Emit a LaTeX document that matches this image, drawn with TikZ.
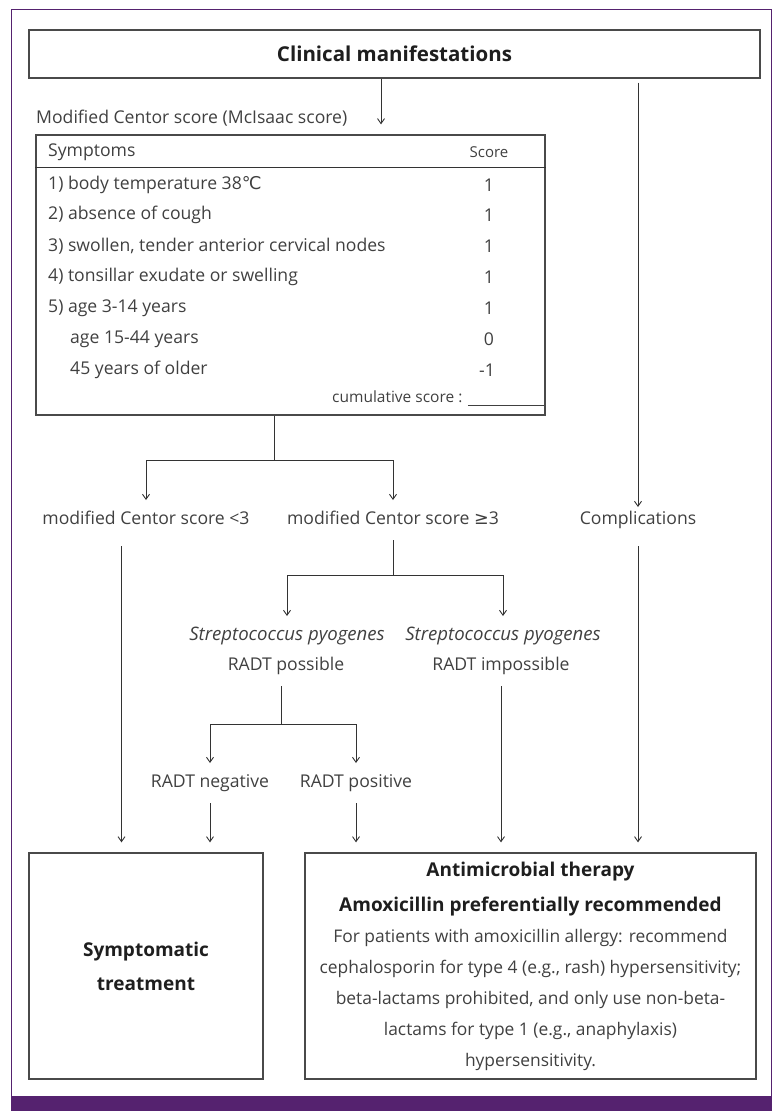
\documentclass[tikz,border=0pt]{standalone}
\usepackage{fontspec}
\setmainfont{Open Sans}
\newfontfamily\symfont{DejaVu Sans}
\usetikzlibrary{arrows.meta,positioning}
\definecolor{framepurple}{HTML}{55226F}
\definecolor{textgray}{HTML}{404040}
\definecolor{titlegray}{HTML}{1E1E1E}
\definecolor{linegray}{HTML}{333333}
\definecolor{boxgray}{HTML}{4A4A4A}
\tikzset{
  box/.style={draw=boxgray, line width=1.3pt, inner sep=0pt, align=center},
  lbl/.style={inner sep=0pt, text height=12pt, text depth=4pt, outer ysep=12pt,
    text=textgray, font=\fontsize{17.6}{20}\selectfont},
  row/.style={anchor=west, inner sep=0pt, text=textgray, font=\fontsize{17.6}{20}\selectfont},
  pts/.style={inner sep=0pt, text=textgray, font=\fontsize{17.6}{20}\selectfont},
  arr/.style={draw=linegray, line width=0.9pt, -{Straight Barb[length=5pt,width=7pt]}},
  ln/.style={draw=linegray, line width=0.9pt}
}

\begin{document}
\begin{tikzpicture}[x=1pt,y=-1pt]
        \useasboundingbox (0,0) rectangle (784,1120);
        % Frame
        \draw[framepurple, line width=1.2pt] (11.5,9.5) rectangle (771.5,1097);
        \fill[framepurple] (11,1096) rectangle (772,1111);
        % Boxes
        \node[box, minimum width=731pt, minimum height=48pt, text=titlegray,
          font=\bfseries\fontsize{20.5}{24}\selectfont] (clin) at (394.5,54) {Clinical manifestations};
        \node[row] (mcisaac) at (36,118) {Modified Centor score (McIsaac score)};
        \node[box, minimum width=509pt, minimum height=280pt] (tbl) at (290.5,275) {};
        \draw[ln] (tbl.west |- 0,167) -- (tbl.east |- 0,167);
        \node[box, minimum width=234pt, minimum height=226pt, text=titlegray,
          font=\bfseries\fontsize{19}{34}\selectfont] (sym) at (146,966) {Symptomatic\\treatment};
        \node[box, minimum width=451pt, minimum height=226pt, text=textgray,
          font=\fontsize{17.4}{31}\selectfont] (anti) at (530.5,966) {%
          {\color{titlegray}\bfseries\fontsize{19}{35}\selectfont Antimicrobial therapy}\\[4pt]
          {\color{titlegray}\bfseries\fontsize{19}{35}\selectfont Amoxicillin preferentially recommended}\\
          For patients with amoxicillin allergy: recommend\\
          cephalosporin for type 4 (e.g., rash) hypersensitivity;\\
          beta-lactams prohibited, and only use non-beta-\\
          lactams for type 1 (e.g., anaphylaxis)\\
          hypersensitivity.};
        % Table rows
        \node[row] (symhead) at (48,152) {Symptoms};
        \node[pts, font=\fontsize{15}{18}\selectfont] (scorehead) at (489,152) {Score};
        \node[row] (s1) at (48,185) {1) body temperature 38{\symfont ℃}};
        \node[row] (s2) at (48,215) {2) absence of cough};
        \node[row] (s3) at (48,246) {3) swollen, tender anterior cervical nodes};
        \node[row] (s4) at (48,277) {4) tonsillar exudate or swelling};
        \node[row] (s5) at (48,308) {5) age 3-14 years};
        \node[row] (s6) at (70,339) {age 15-44 years};
        \node[row] (s7) at (70,370) {45 years of older};
        \node[pts] (p1) at (489,185) {1};
        \node[pts] (p2) at (489,215) {1};
        \node[pts] (p3) at (489,246) {1};
        \node[pts] (p4) at (489,277) {1};
        \node[pts] (p5) at (489,308) {1};
        \node[pts] (p6) at (489,339) {0};
        \node[pts] (p7) at (487,370) {-1};
        \node[pts, anchor=east, font=\fontsize{15.5}{18}\selectfont] (cum) at (544,398)
          {cumulative score : \raisebox{-3pt}{\rule{76pt}{0.8pt}}};
        % Labels
        \node[lbl] (low) at (146,520) {modified Centor score <3};
        \node[lbl] (high) at (393,520) {modified Centor score {\symfont ≥}3};
        \node[lbl] (comp) at (638,520) {Complications};
        \node[lbl, font=\itshape\fontsize{18.6}{20}\selectfont] (sp1) at (287,636) {Streptococcus pyogenes};
        \node[lbl, font=\itshape\fontsize{18.6}{20}\selectfont] (sp2) at (503,636) {Streptococcus pyogenes};
        \node[lbl] (radt1) at (286,666) {RADT possible};
        \node[lbl] (radt2) at (501,666) {RADT impossible};
        \node[lbl] (neg) at (210,783) {RADT negative};
        \node[lbl] (pos) at (356,783) {RADT positive};
        % Connectors
        \coordinate (mc) at (381,0);
        \draw[arr, shorten >=10pt] (clin.south -| mc) -- (tbl.north -| mc);
        \draw[arr, shorten <=4pt, shorten >=-7pt] (clin.south -| comp) -- (comp.north);
        \coordinate (j1) at (274,460);
        \draw[ln] (tbl.south -| j1) -- (j1);
        \draw[arr] (j1) -| (low.north);
        \draw[arr] (j1) -| (high.north);
        \coordinate (j2) at (393,575);
        \draw[ln] (high.south) -- (j2);
        \draw[arr] (j2) -| (sp1.north);
        \draw[arr] (j2) -| (sp2.north);
        \coordinate (j3) at (281,724);
        \draw[ln] (radt1.south -| j3) -- (j3);
        \draw[arr] (j3) -| (neg.north);
        \draw[arr] (j3) -| (pos.north);
        \coordinate (c1) at (121.5,0);
        \draw[arr, shorten <=6pt, shorten >=10pt] (low.south -| c1) -- (sym.north -| c1);
        \draw[arr, shorten >=10pt] (neg.south) -- (neg.south |- sym.north);
        \draw[arr, shorten >=10pt] (pos.south) -- (pos.south |- anti.north);
        \draw[arr, shorten >=10pt] (radt2.south) -- (radt2.south |- anti.north);
        \draw[arr, shorten <=6pt, shorten >=10pt] (comp.south) -- (comp.south |- anti.north);
\end{tikzpicture}
\end{document}
